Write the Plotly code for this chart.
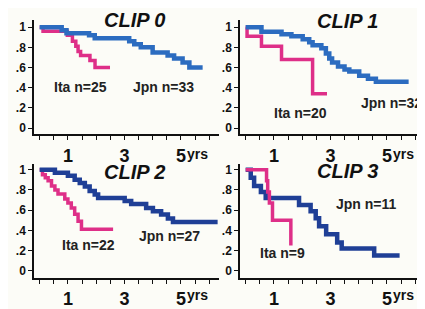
import plotly.graph_objects as go

# ---- data (years, survival proportion) ----
clip0_jpn_t = [0, 0.78, 0.95, 1.75, 1.95, 3.17, 3.35, 3.58, 4.0, 4.53, 4.76, 5.06, 5.3, 5.77]
clip0_jpn_s = [1, 0.97, 0.94, 0.92, 0.89, 0.86, 0.83, 0.80, 0.75, 0.72, 0.69, 0.65, 0.60, 0.60]
clip0_ita_t = [0, 0.12, 0.98, 1.16, 1.28, 1.36, 1.45, 1.78, 1.96, 2.49]
clip0_ita_s = [1, 0.96, 0.92, 0.86, 0.81, 0.76, 0.72, 0.67, 0.60, 0.60]

clip1_jpn_t = [0, 0.56, 1.27, 1.62, 2.02, 2.25, 2.37, 2.68, 2.84, 2.96, 3.06, 3.27, 3.5, 3.67, 4.02, 4.33, 4.61, 5.77]
clip1_jpn_s = [1, 0.955, 0.93, 0.91, 0.88, 0.85, 0.82, 0.79, 0.74, 0.69, 0.65, 0.61, 0.58, 0.56, 0.52, 0.49, 0.46, 0.46]
clip1_ita_t = [0, 0.05, 0.56, 1.27, 2.37, 2.88]
clip1_ita_s = [1, 0.91, 0.81, 0.68, 0.34, 0.34]

clip2_jpn_t = [0, 0.54, 1.0, 1.24, 1.42, 1.6, 1.77, 1.95, 2.07, 3.01, 3.24, 3.77, 4.01, 4.3, 4.54, 4.72, 6.3]
clip2_jpn_s = [1, 0.97, 0.94, 0.90, 0.87, 0.835, 0.79, 0.756, 0.72, 0.69, 0.66, 0.62, 0.59, 0.556, 0.518, 0.483, 0.483]
clip2_ita_t = [0, 0.1, 0.2, 0.3, 0.42, 0.54, 0.65, 0.89, 1.0, 1.12, 1.24, 1.36, 1.48, 2.6]
clip2_ita_s = [1, 0.95, 0.92, 0.89, 0.84, 0.80, 0.76, 0.71, 0.67, 0.62, 0.56, 0.49, 0.41, 0.41]

clip3_jpn_t = [0, 0.18, 0.3, 0.54, 0.71, 1.89, 2.3, 2.48, 2.6, 2.85, 3.24, 3.4, 4.55, 5.45]
clip3_jpn_s = [1, 0.92, 0.84, 0.78, 0.72, 0.65, 0.59, 0.52, 0.44, 0.36, 0.28, 0.22, 0.15, 0.15]
clip3_ita_t = [0, 0.74, 0.78, 0.84, 0.95, 1.6]
clip3_ita_s = [1, 0.89, 0.78, 0.67, 0.5, 0.25]

panel_titles = ["CLIP 0", "CLIP 1", "CLIP 2", "CLIP 3"]
ita_labels = ["Ita n=25", "Ita n=20", "Ita n=22", "Ita n=9"]
jpn_labels = ["Jpn n=33", "Jpn n=32", "Jpn n=27", "Jpn n=11"]

y_tickvals = [0, 0.2, 0.4, 0.6, 0.8, 1]
y_ticktext = ["0", ".2", ".4", ".6", ".8", "1"]
x_tickvals = [0, 0.5, 1, 1.5, 2, 2.5, 3, 3.5, 4, 4.5, 5, 5.5, 6]
x_ticktext = ["", "", "1", "", "", "", "3", "", "", "", "5", "", ""]

# page body has an 8px default margin: figure is placed at (8, 8) in the window
OFF = 8
W, H = 425 - OFF, 309 - OFF
PINK = "#de2f88"
BLUE_TOP = "#2c6cc0"
BLUE_BOT = "#1f3f96"
FONT = "Liberation Sans, Arial, sans-serif"


def fx(xr):
    return (xr - OFF) / W


def fy(yr):
    return 1 - (yr - OFF) / H


panels = [
    (clip0_jpn_t, clip0_jpn_s, clip0_ita_t, clip0_ita_s, BLUE_TOP, False),
    (clip1_jpn_t, clip1_jpn_s, clip1_ita_t, clip1_ita_s, BLUE_TOP, False),
    (clip2_jpn_t, clip2_jpn_s, clip2_ita_t, clip2_ita_s, BLUE_BOT, False),
    (clip3_jpn_t, clip3_jpn_s, clip3_ita_t, clip3_ita_s, BLUE_BOT, True),
]

x_domains = [[fx(34), fx(219)], [fx(240), 1.0], [fx(34), fx(219)], [fx(240), 1.0]]
y_domains = [[fy(139), fy(20)], [fy(139), fy(20)], [fy(289), fy(170)], [fy(289), fy(170)]]
y_ranges = [[-0.061, 1.066], [-0.061, 1.066], [-0.071, 1.057], [-0.071, 1.057]]
x_range = [-0.2, 6.349]

fig = go.Figure()
layout = {}
for i, (jt, js, it, is_, bcol, pink_top) in enumerate(panels):
    sfx = "" if i == 0 else str(i + 1)
    xa, ya = "x" + sfx, "y" + sfx
    blue = go.Scatter(x=jt, y=js, mode="lines", line=dict(color=bcol, width=4.5, shape="hv"),
                      xaxis=xa, yaxis=ya, showlegend=False, hoverinfo="skip")
    pink = go.Scatter(x=it, y=is_, mode="lines", line=dict(color=PINK, width=3.5, shape="hv"),
                      xaxis=xa, yaxis=ya, showlegend=False, hoverinfo="skip")
    if pink_top:
        fig.add_trace(blue); fig.add_trace(pink)
    else:
        fig.add_trace(pink); fig.add_trace(blue)
    layout["xaxis" + sfx] = dict(
        domain=x_domains[i], range=x_range, anchor=ya, showgrid=False, zeroline=False,
        showline=True, linecolor="#111", linewidth=1.5, ticks="outside", ticklen=4,
        tickwidth=1, tickcolor="#111", tickvals=x_tickvals,
        ticktext=["<b>%s</b>" % t if t else "" for t in x_ticktext],
        tickfont=dict(family=FONT, size=18, color="#111"), fixedrange=True)
    layout["yaxis" + sfx] = dict(
        domain=y_domains[i], range=y_ranges[i], anchor=xa, showgrid=False, zeroline=False,
        showline=True, linecolor="#111", linewidth=1.5, ticks="outside", ticklen=4,
        tickwidth=1, tickcolor="#111", tickvals=y_tickvals,
        ticktext=["<b>%s</b>" % t for t in y_ticktext],
        tickfont=dict(family=FONT, size=12, color="#111"), fixedrange=True)

fig.update_layout(**layout)

annotations = []
title_pos = [(135, 20), (348, 21), (135, 178), (348, 177)]
ita_pos = [(80, 90), (300, 117), (88, 255), (282, 263)]
jpn_pos = [(163, 90), (391, 106), (169, 245), (366, 212)]
yrs_y = [160, 160, 307, 307]
for i in range(4):
    annotations.append(dict(x=fx(title_pos[i][0]), y=fy(title_pos[i][1]), xref="paper", yref="paper",
                            text="<b><i>%s</i></b>" % panel_titles[i],
                            showarrow=False, font=dict(family=FONT, size=20, color="#111"),
                            xanchor="center", yanchor="middle"))
    annotations.append(dict(x=fx(ita_pos[i][0]), y=fy(ita_pos[i][1]), xref="paper", yref="paper",
                            text="<b>%s</b>" % ita_labels[i],
                            showarrow=False, font=dict(family=FONT, size=14, color="#222"),
                            xanchor="center", yanchor="middle"))
    annotations.append(dict(x=fx(jpn_pos[i][0]), y=fy(jpn_pos[i][1]), xref="paper", yref="paper",
                            text="<b>%s</b>" % jpn_labels[i],
                            showarrow=False, font=dict(family=FONT, size=14, color="#222"),
                            xanchor="center", yanchor="middle"))
    sfx = "" if i == 0 else str(i + 1)
    annotations.append(dict(x=5, y=fy(yrs_y[i]), xref="x" + sfx, yref="paper", text="<b>yrs</b>",
                            showarrow=False, font=dict(family=FONT, size=14, color="#111"),
                            xanchor="left", yanchor="middle", xshift=4))

fig.update_layout(
    width=W, height=H, margin=dict(l=0, r=0, t=0, b=0),
    paper_bgcolor="#fcfcf7", plot_bgcolor="#fcfcf7",
    annotations=annotations, showlegend=False,
)

fig.write_html("out.html", config={"displayModeBar": False})
